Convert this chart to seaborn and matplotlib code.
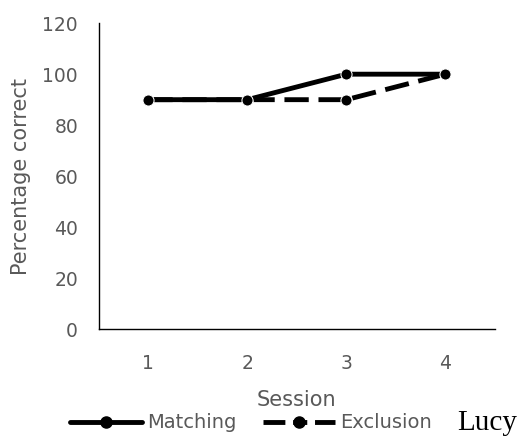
import pandas as pd
import matplotlib.pyplot as plt
import seaborn as sns
from matplotlib.lines import Line2D

sessions = [1, 2, 3, 4]
matching = [90, 90, 100, 100]
exclusion = [90, 90, 90, 100]
y_ticks = [0, 20, 40, 60, 80, 100, 120]

df = pd.DataFrame({"Session": sessions, "Matching": matching, "Exclusion": exclusion})

sns.set_style("white")
plt.rcParams["font.family"] = ["DejaVu Sans"]

fig = plt.figure(figsize=(5.23, 4.46), dpi=100)
ax = fig.add_axes([0.189, 0.262, 0.757, 0.686])

grey = "#595959"
dash = [5, 2]
sns.lineplot(data=df, x="Session", y="Exclusion", ax=ax, color="black", lw=3.5,
             marker="o", markersize=8, legend=False)
ax.lines[-1].set_dashes(dash)
sns.lineplot(data=df, x="Session", y="Matching", ax=ax, color="black", lw=3.5,
             marker="o", markersize=8, legend=False)

ax.set_xlim(0.5, 4.5)
ax.set_ylim(0, 120)
ax.set_xticks(sessions)
ax.set_yticks(y_ticks)
ax.tick_params(length=0, labelsize=13.5, colors=grey)
ax.tick_params(axis="x", pad=18)
ax.tick_params(axis="y", pad=15)
for s in ["top", "right"]:
    ax.spines[s].set_visible(False)
for s in ["left", "bottom"]:
    ax.spines[s].set_color("black")
    ax.spines[s].set_linewidth(1)

ax.set_xlabel("Session", fontsize=15, color=grey, labelpad=12)
ax.set_ylabel("Percentage correct", fontsize=15, color=grey, labelpad=8)

h_match = Line2D([], [], color="black", lw=3.5, marker="o", markersize=8)
h_excl = Line2D([], [], color="black", lw=3.5, marker="o", markersize=8,
                linestyle=(0, (4.5, 1.6, 2.9, 1.6)))
fig.legend([h_match, h_excl], ["Matching", "Exclusion"],
           loc="center", bbox_to_anchor=(0.48, 0.052), ncol=2, frameon=False,
           fontsize=14, labelcolor=grey, handlelength=3.7, handletextpad=0.25,
           columnspacing=1.4)

fig.text(0.874, 0.052, "Lucy", fontsize=21, family="Liberation Serif",
         color="black", ha="left", va="center")

fig.savefig("out.png", dpi=100)
